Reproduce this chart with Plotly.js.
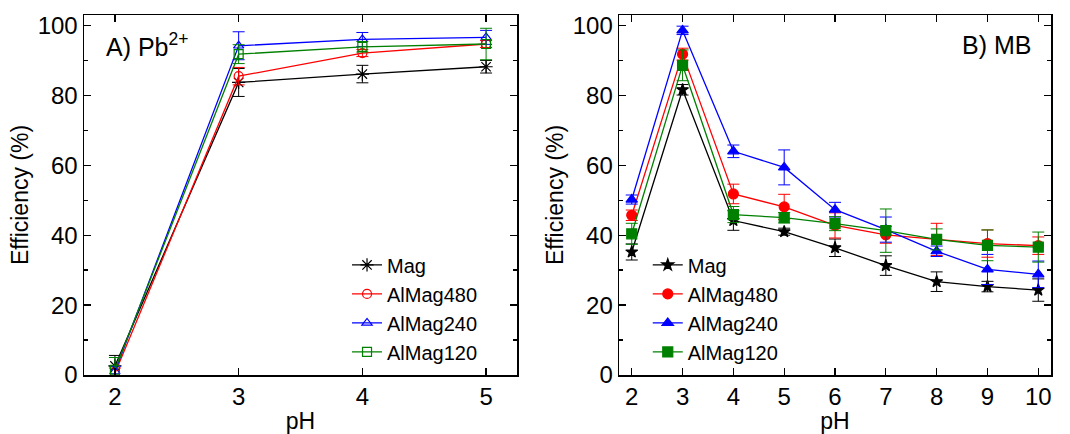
<!DOCTYPE html>
<html>
<head>
<meta charset="utf-8">
<script src="https://cdn.plot.ly/plotly-3.0.1.min.js"></script>
<style>html,body{margin:0;padding:0;background:#fff;}#chart{width:1070px;height:434px;}</style>
</head>
<body>
<div id="chart"></div>
<script>
// ---- Panel A: Pb2+ ----
const phA = [2, 3, 4, 5];
const pbMag = [2.6, 83.7, 86.1, 88.2];
const pbMagErr = [3.0, 4.0, 2.5, 1.8];
const pb480 = [0.5, 85.5, 92.1, 94.7];
const pb480Err = [1.5, 2.5, 1.0, 1.0];
const pb240 = [1.0, 94.2, 96.0, 96.6];
const pb240Err = [1.5, 4.0, 2.0, 2.0];
const pb120 = [1.5, 91.8, 93.9, 94.7];
const pb120Err = [3.5, 2.7, 1.5, 4.5];

// ---- Panel B: MB ----
const phB = [2, 3, 4, 5, 6, 7, 8, 9, 10];
const mbMag = [35.2, 81.6, 44.2, 41.0, 36.4, 31.3, 26.7, 25.3, 24.3];
const mbMagErr = [2.3, 1.5, 2.8, 1.0, 2.5, 2.8, 2.8, 1.5, 3.2];
const mb480 = [45.7, 91.8, 51.8, 48.1, 42.8, 40.1, 38.8, 37.6, 37.0];
const mb480Err = [1.5, 1.7, 2.8, 3.6, 3.6, 2.4, 4.6, 3.9, 2.5];
const mb240 = [50.2, 98.6, 64.0, 59.4, 47.3, 41.6, 35.4, 30.2, 28.8];
const mb240Err = [1.3, 1.2, 1.8, 5.0, 2.1, 3.6, 1.5, 4.3, 3.8];
const mb120 = [40.4, 88.6, 45.9, 45.0, 43.3, 41.3, 38.8, 37.1, 36.6];
const mb120Err = [3.0, 4.4, 2.3, 1.5, 2.0, 6.2, 3.0, 4.4, 4.3];

const seriesNames = ['Mag', 'AlMag480', 'AlMag240', 'AlMag120'];
const colors = ['#000000', '#ff0000', '#0000ff', '#008000'];
const symbolsA = ['asterisk-open', 'circle-open', 'triangle-up-open', 'square-open'];
const symbolsB = ['star', 'circle', 'triangle-up', 'square'];

const FONT = 'Liberation Sans, Arial, sans-serif';

function mk(x, y, err, i, sym, xa, ya, leg, size) {
  return {
    x: x, y: y, type: 'scatter', mode: 'lines+markers',
    name: seriesNames[i], xaxis: xa, yaxis: ya, legend: leg,
    line: {color: colors[i], width: 1.3},
    marker: {symbol: sym, size: size, color: colors[i], line: {color: colors[i], width: 1.2}},
    error_y: {type: 'data', array: err, visible: true, color: colors[i], thickness: 1, width: 6}
  };
}

const A = [pbMag, pb480, pb240, pb120];
const AE = [pbMagErr, pb480Err, pb240Err, pb120Err];
const B = [mbMag, mb480, mb240, mb120];
const BE = [mbMagErr, mb480Err, mb240Err, mb120Err];

const traces = [];
for (let i = 0; i < 4; i++) traces.push(mk(phA, A[i], AE[i], i, symbolsA[i], 'x', 'y', 'legend', i === 0 ? 11 : 9));
for (let i = 0; i < 4; i++) traces.push(mk(phB, B[i], BE[i], i, symbolsB[i], 'x2', 'y2', 'legend2', i === 0 ? 9 : 10));

function xax(domain, range, anchor) {
  return {
    domain: domain, range: range, anchor: anchor, dtick: 1, tick0: 0,
    ticks: 'inside', ticklen: 7, tickwidth: 1.3, tickcolor: '#000',
    showline: true, linecolor: '#000', linewidth: 1.5, mirror: 'ticks',
    showgrid: false, zeroline: false,
    tickfont: {family: FONT, size: 24, color: '#000'},
    title: {text: 'pH', font: {family: FONT, size: 23, color: '#000'}, standoff: 4}
  };
}
function yax(anchor) {
  return {
    range: [0, 103], anchor: anchor, dtick: 20, tick0: 0,
    ticks: 'inside', ticklen: 7, tickwidth: 1.3, tickcolor: '#000',
    minor: {dtick: 10, ticks: 'inside', ticklen: 4, tickcolor: '#000', showgrid: false},
    showline: true, linecolor: '#000', linewidth: 1.5, mirror: 'ticks',
    showgrid: false, zeroline: false,
    tickfont: {family: FONT, size: 24, color: '#000'},
    title: {text: 'Efficiency (%)', font: {family: FONT, size: 23, color: '#000'}, standoff: 2}
  };
}

const legendBase = {
  font: {family: FONT, size: 20, color: '#000'},
  bgcolor: 'rgba(0,0,0,0)', borderwidth: 0,
  xanchor: 'left', yanchor: 'top', tracegroupgap: 0, itemwidth: 30
};

const layout = {
  width: 1070, height: 434,
  margin: {l: 84, r: 19, t: 15, b: 59},
  paper_bgcolor: '#fff', plot_bgcolor: '#fff',
  font: {family: FONT, color: '#000'},
  xaxis: xax([0, 0.4478], [1.75, 5.25], 'y'),
  yaxis: yax('x'),
  xaxis2: xax([0.5533, 1], [1.75, 10.25], 'y2'),
  yaxis2: yax('x2'),
  legend: Object.assign({}, legendBase, {x: 0.272, y: 0.36}),
  legend2: Object.assign({}, legendBase, {x: 0.583, y: 0.36}),
  annotations: [
    {text: 'A) Pb<sup>2+</sup>', xref: 'x domain', yref: 'y domain', x: 0.046, y: 0.917,
     xanchor: 'left', yanchor: 'middle', showarrow: false, font: {family: FONT, size: 25, color: '#000'}},
    {text: 'B) MB', xref: 'x2 domain', yref: 'y2 domain', x: 0.958, y: 0.917,
     xanchor: 'right', yanchor: 'middle', showarrow: false, font: {family: FONT, size: 25, color: '#000'}}
  ]
};

Plotly.newPlot('chart', traces, layout, {displayModeBar: false, staticPlot: true});
</script>
</body>
</html>
